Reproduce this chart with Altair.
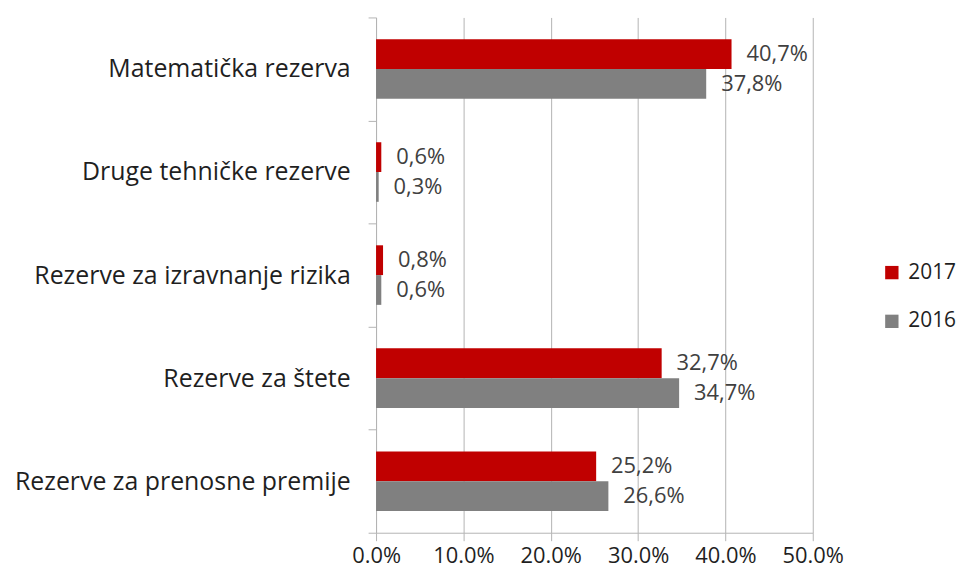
import altair as alt
import pandas as pd

categories = [
    "Matematička rezerva",
    "Druge tehničke rezerve",
    "Rezerve za izravnanje rizika",
    "Rezerve za štete",
    "Rezerve za prenosne premije",
]
series = ["2017", "2016"]
values_2017 = [40.7, 0.6, 0.8, 32.7, 25.2]
values_2016 = [37.8, 0.3, 0.6, 34.7, 26.6]
x_ticks = [0, 10, 20, 30, 40, 50]

rows = []
for c, v17, v16 in zip(categories, values_2017, values_2016):
    rows.append({"category": c, "year": "2017", "value": v17})
    rows.append({"category": c, "year": "2016", "value": v16})
df = pd.DataFrame(rows)

FONT = "Open Sans"
RED = "#c00000"
GRAY = "#808080"
GRID = "#b3b3b3"
TXT = "#1f1f1f"

y_enc = alt.Y(
    "category:N",
    sort=categories,
    scale=alt.Scale(paddingInner=0, paddingOuter=0),
    axis=alt.Axis(
        title=None,
        labelFont=FONT,
        labelFontSize=25,
        labelColor=TXT,
        labelPadding=18,
        labelLimit=500,
        tickBand="extent",
        tickSize=8,
        tickColor=GRID,
        domainColor=GRID,
        minExtent=370,
        maxExtent=370,
        grid=False,
    ),
)
yoff = alt.YOffset(
    "year:N", sort=series, scale=alt.Scale(paddingInner=0, paddingOuter=0.73)
)
x_enc = alt.X(
    "value:Q",
    scale=alt.Scale(domain=[0, 50], nice=False),
    axis=alt.Axis(
        title=None,
        values=x_ticks,
        labelExpr="format(datum.value, '.1f') + '%'",
        labelFont=FONT,
        labelFontSize=22,
        labelColor=TXT,
        labelPadding=5,
        labelFlush=False,
        tickSize=8,
        tickColor=GRID,
        domainColor=GRID,
        gridColor=GRID,
        grid=True,
    ),
)

bars = alt.Chart(df).mark_bar().encode(
    x=x_enc,
    y=y_enc,
    yOffset=yoff,
    color=alt.Color(
        "year:N",
        sort=series,
        scale=alt.Scale(domain=series, range=[RED, GRAY]),
        legend=alt.Legend(
            title=None,
            orient="none",
            legendX=508,
            legendY=246,
            symbolType="square",
            symbolSize=180,
            symbolStrokeWidth=0,
            labelFont=FONT,
            labelFontSize=21,
            labelColor=TXT,
            labelOffset=6,
            rowPadding=27,
        ),
    ),
)

labels = alt.Chart(df).transform_calculate(
    label="replace(format(datum.value, '.1f'), '.', ',') + '%'"
).mark_text(
    align="left", baseline="middle", dx=15, font=FONT, fontSize=22, color="#404040"
).encode(
    x="value:Q",
    y=alt.Y("category:N", sort=categories),
    yOffset=alt.YOffset("year:N", sort=series),
    text="label:N",
)

chart = (
    alt.layer(bars, labels)
    .properties(width=439, height=518, padding={"left": 0, "top": -4, "right": 0, "bottom": 6})
    .configure_view(stroke=None)
)

chart.save("out.html", embed_options={"renderer": "svg", "actions": False})
